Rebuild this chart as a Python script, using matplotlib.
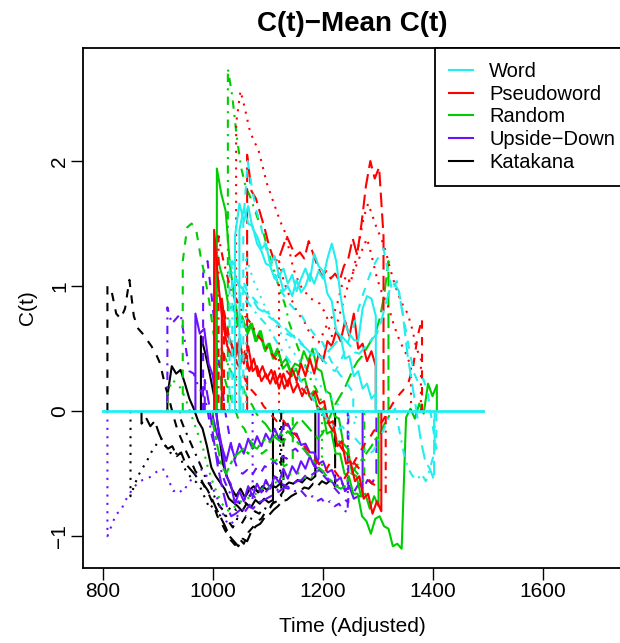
import numpy as np
import matplotlib.pyplot as plt
from matplotlib.lines import Line2D

plt.rcParams['font.family'] = ['Liberation Sans', 'DejaVu Sans']

# each trace: (start time, time step, C(t) - mean values)
# Katakana
kat_1 = (808, 8, [1.00, 0.95, 0.78, 0.74, 0.82, 1.05, 0.76, 0.66, 0.62, 0.57, 0.52, 0.46, 0.38, 0.22,
                  0.10, -0.04, -0.16, -0.24, -0.33, -0.40, -0.48, -0.52, -0.60, -0.66, -0.74, -0.84,
                  -0.90, -0.97, -1.03, -1.07, -1.02, -1.06, -0.97, -0.93, -0.88, -0.86, -0.80, -0.77,
                  -0.71, -0.69, -0.64])
kat_2 = (850, 8, [-0.68, -0.58, -0.50, -0.44, -0.38, -0.31, -0.26, -0.22, -0.28, -0.33, -0.36, -0.31,
                  -0.44, -0.50, -0.54, -0.57, -0.62, -0.70, -0.78, -0.74, -0.82, -0.86, -0.80, -0.76,
                  -0.79, -0.72, -0.74, -0.68, -0.66, -0.62, -0.64, -0.57, -0.60, -0.54, -0.50])
kat_3 = (917, 8, [0.12, 0.36, 0.30, 0.33, 0.22, 0.10, 0.02, -0.08, -0.14, -0.28, -0.45, -0.52, -0.57,
                  -0.62, -0.70, -0.73, -0.76, -0.80, -0.74, -0.77, -0.71, -0.74, -0.70, -0.73, -0.71])
kat_4 = (978, 8, [0.60, 0.46, 0.30, 0.12, -0.15, -0.42, -0.53, -0.62, -0.68, -0.62, -0.69, -0.63,
                  -0.60, -0.65, -0.60, -0.63, -0.59, -0.61, -0.58, -0.60, -0.57, -0.58, -0.55, -0.57,
                  -0.53, -0.55, -0.52])
kat_5 = (940, 8, [-0.05, -0.14, -0.22, -0.30, -0.38, -0.46, -0.55, -0.60, -0.70, -0.76, -0.80, -0.88,
                  -0.93, -0.86, -0.90, -0.84, -0.87, -0.80, -0.82, -0.77, -0.79, -0.74, -0.72, -0.68])
kat_6 = (870, 8, [-0.10, -0.05, -0.12, -0.08, -0.18, -0.26, -0.30, -0.28, -0.36, -0.33, -0.42, -0.46,
                  -0.50, -0.55, -0.58, -0.63, -0.70, -0.78, -0.85, -0.92, -1.00, -1.04, -1.08, -1.02,
                  -1.04, -0.96, -0.92, -0.90, -0.85, -0.83, -0.79, -0.76, -0.72, -0.71, -0.68, -0.66,
                  -0.64, -0.61, -0.62, -0.58, -0.60, -0.56, -0.58, -0.55, -0.60])

# Upside-Down
ud_1 = (808, 8, [-1.00, -0.91, -0.82, -0.80, -0.72, -0.66, -0.61, -0.57, -0.55, -0.54, -0.52, -0.49,
                 -0.46, -0.47, -0.56, -0.64, -0.62, -0.65, -0.60, -0.55, -0.50, -0.46, -0.48, -0.55,
                 -0.62, -0.70, -0.80, -0.88, -0.91, -0.86, -0.82, -0.78, -0.76, -0.73])
ud_2 = (917, 8, [0.83, 0.70, 0.74, 0.78, 0.55, 0.32, 0.30, 0.20, 0.14, 0.04, -0.18, -0.32, -0.45,
                 -0.56, -0.64, -0.70, -0.73, -0.69, -0.71, -0.66, -0.69, -0.64, -0.66, -0.62, -0.60,
                 -0.63, -0.58, -0.60, -0.61, -0.64, -0.62, -0.66, -0.70, -0.68, -0.72, -0.70, -0.74,
                 -0.72, -0.76, -0.74, -0.79, -0.81])
ud_3 = (982, 8, [1.10, 1.20, 0.90, 0.55, 0.28, 0.00, -0.20, -0.38, -0.48, -0.50, -0.47, -0.52, -0.46,
                 -0.50, -0.44, -0.46, -0.40, -0.43, -0.36, -0.38, -0.32, -0.30, -0.34, -0.30, -0.36,
                 -0.42, -0.46, -0.50, -0.54, -0.58, -0.62, -0.66, -0.70, -0.73])
ud_4 = (968, 8, [0.78, 0.62, 0.66, 0.38, 0.28, -0.10, -0.28, -0.52, -0.58, -0.74, -0.64, -0.72, -0.60,
                 -0.68, -0.58, -0.65, -0.55, -0.62, -0.52, -0.57, -0.46, -0.54, -0.44, -0.50, -0.40,
                 -0.46, -0.36, -0.44, -0.38])
ud_5 = (1000, 8, [-0.05, -0.20, -0.28, -0.40, -0.26, -0.38, -0.26, -0.34, -0.22, -0.30, -0.20, -0.28,
                  -0.18, -0.24, -0.14, -0.22, -0.12, -0.10, -0.18, -0.18, -0.27, -0.26, -0.33, -0.33,
                  -0.42, -0.40, -0.49, -0.47, -0.56, -0.53, -0.64, -0.60, -0.70, -0.68, -0.68])
ud_6 = (985, 8, [0.25, 0.05, -0.22, -0.45, -0.62, -0.76, -0.84, -0.82, -0.79, -0.81, -0.76, -0.78,
                 -0.73, -0.72, -0.70, -0.68, -0.66, -0.64, -0.61, -0.62, -0.58, -0.56, -0.55, -0.51,
                 -0.52, -0.49, -0.47, -0.50, -0.54, -0.57, -0.60, -0.56, -0.63, -0.60, -0.64, -0.58,
                 -0.62, -0.55, -0.58, -0.50])

# Random
rnd_1 = (945, 8, [1.20, 1.47, 1.50, 1.46, 1.25, 1.08, 0.88, 0.62, 0.46, 0.33, 0.20, 0.10, 0.00,
                  -0.10, -0.14, -0.22, -0.27, -0.30, -0.34, -0.31, -0.38, -0.40, -0.37, -0.44, -0.42,
                  -0.40])
rnd_2 = (1027, 8, [2.74, 2.52, 2.20, 1.95, 1.80, 1.72, 1.62, 1.52, 1.44, 1.30, 1.18, 1.06, 0.95, 0.85,
                   0.70, 0.60, 0.50, 0.42, 0.33, 0.24, 0.18, 0.10, 0.02, -0.08, -0.16, -0.22, -0.30,
                   -0.34, -0.42, -0.48, -0.52, -0.56])
rnd_3 = (1007, 8, [1.94, 1.74, 1.60, 1.16, 0.90, 0.70, 0.72, 0.62, 0.70, 0.56, 0.64, 0.48, 0.54, 0.42,
                   0.48, 0.34, 0.38, 0.28, 0.34, 0.24, 0.26, 0.12, 0.16, 0.00, 0.02, -0.18, -0.16,
                   -0.34, -0.34, -0.50, -0.52, -0.66, -0.66, -0.84, -0.88, -0.98, -0.86, -0.84, -0.92,
                   -0.94, -1.08, -1.06, -1.10, -0.05, 0.02, -0.06, 0.06, -0.02, 0.22, 0.12, 0.21])
rnd_4 = (1005, 8, [1.30, 1.14, 1.02, 0.82, 0.84, 0.68, 0.76, 0.64, 0.70, 0.56, 0.64, 0.50, 0.54, 0.42,
                   0.50, 0.38, 0.42, 0.32, 0.38, 0.36, 0.48, 0.40, 0.50, 0.34, 0.32, 0.16, 0.14, -0.04,
                   -0.06, -0.26, -0.30, -0.50, -0.52, -0.68, -0.66, -0.78, -0.68, -0.76])
rnd_5 = (1000, 8, [-0.10, -0.28, -0.44, -0.50, -0.42, -0.36, -0.33, -0.30, -0.34, -0.28, -0.30, -0.25,
                   -0.22, -0.25, -0.20, -0.17, -0.20, -0.16, -0.20, -0.24, -0.28, -0.32, -0.36, -0.40,
                   -0.45, -0.48, -0.53, -0.56, -0.60, -0.62, -0.60, -0.52, -0.47, -0.42, -0.38, -0.33,
                   -0.28, -0.22, -0.18, -0.10, -0.04])
rnd_6 = (918, 8, [0.15, 0.25, 0.22, 0.18, 0.10, 0.00, -0.10, -0.20, -0.30, -0.44, -0.55, -0.64, -0.72,
                  -0.78, -0.80, -0.77, -0.74, -0.71, -0.70, -0.68, -0.66, -0.63, -0.60, -0.61, -0.58,
                  -0.56, -0.54, -0.52, -0.50, -0.49, -0.50, -0.53, -0.55, -0.52, -0.48, -0.45])
rnd_7 = (1015, 8, [0.50, 0.42, 0.33, 0.27, 0.22, 0.18, 0.10, 0.05, -0.02, -0.07, -0.10, -0.15, -0.20,
                   -0.23, -0.25, -0.20, -0.15, -0.10, -0.06, -0.10, -0.14, -0.18, -0.22, -0.18, -0.10,
                   -0.02, 0.06, 0.12, 0.18, 0.26, 0.34, 0.40, 0.44, 0.50, 0.56, 0.62, 0.74, 0.92, 1.20])

# Pseudoword
psw_1 = (1042, 8, [2.30, 2.56, 2.42, 2.26, 2.16, 2.10, 1.96, 1.82, 1.72, 1.62, 1.52, 1.44, 1.30, 1.14,
                   1.05, 0.98, 0.94, 0.90, 0.88, 0.86, 0.80, 0.72, 0.76, 0.86, 1.00, 1.08, 1.02, 1.18,
                   1.36, 1.55, 1.66, 1.56, 1.46, 1.38, 1.28, 1.14, 1.02, 0.92, 0.84, 0.78, 0.66, 0.50,
                   0.42])
psw_2 = (1062, 8, [2.05, 1.76, 1.70, 1.58, 1.46, 1.32, 1.22, 1.20, 1.30, 1.40, 1.32, 1.24, 1.27, 1.22,
                   1.36, 1.26, 1.16, 1.08, 1.12, 1.06, 1.10, 1.04, 1.16, 1.22, 1.38, 1.25, 1.50, 1.80,
                   2.00, 1.86, 1.95, 1.40])
psw_3 = (1002, 8, [1.45, 1.00, 0.70, 0.52, 0.44, 0.54, 0.38, 0.48, 0.32, 0.42, 0.28, 0.36, 0.26, 0.33,
                   0.22, 0.30, 0.18, 0.26, 0.15, 0.22, 0.12, 0.20, 0.10, 0.16, 0.06, 0.08, -0.10, -0.08,
                   -0.28, -0.24, -0.42, -0.40, -0.56, -0.52, -0.70, -0.66, -0.82, -0.72, -0.80])
psw_4 = (1016, 8, [0.90, 0.62, 0.56, 0.42, 0.58, 0.38, 0.52, 0.32, 0.36, 0.24, 0.30, 0.22, 0.32, 0.18,
                   0.30, 0.20, 0.34, 0.24, 0.38, 0.28, 0.42, 0.30, 0.46, 0.40, 0.56, 0.52, 0.64, 0.56,
                   0.72, 0.60, 0.78, 0.50, 0.54, 0.40, 0.48, 0.36])
psw_5 = (1020, 8, [0.80, 0.62, 0.50, 0.38, 0.32, 0.24, 0.18, 0.14, 0.10, 0.04, 0.00, -0.04, -0.08,
                   -0.05, -0.10, -0.14, -0.18, -0.22, -0.27, -0.31, -0.36, -0.40, -0.44, -0.48, -0.42,
                   -0.47, -0.52, -0.56, -0.50, -0.44, -0.38, -0.32, -0.26, -0.22, -0.16, -0.12, -0.08,
                   -0.02, 0.04, 0.10, 0.14, 0.18, 0.24, 0.36, 0.60, 0.74])
psw_6 = (1010, 8, [1.40, 1.22, 1.08, 0.94, 0.90, 0.82, 0.76, 0.72, 0.66, 0.60, 0.56, 0.50, 0.46, 0.42,
                   0.38, 0.34, 0.30, 0.26, 0.22, 0.18, 0.14, 0.10, 0.06, 0.02, -0.04, -0.10, -0.16,
                   -0.24, -0.30, -0.34, -0.38, -0.42, -0.46, -0.50, -0.54, -0.58, -0.60, -0.64, -0.66])
psw_7 = (1120, 8, [1.20, 1.05, 0.95, 0.88, 0.80, 0.75, 0.70, 0.62, 0.58, 0.55, 0.62, 0.70, 0.60, 0.68,
                   0.80, 0.92, 1.05, 1.12, 1.20, 1.30, 1.38, 1.25, 1.10, 0.98, 0.90, 0.82, 0.70, 0.60,
                   0.52, 0.45, 0.35])

# Word
wrd_1 = (1048, 8, [1.45, 1.62, 1.50, 1.48, 1.34, 1.28, 1.18, 1.16, 1.06, 1.10, 0.96, 1.00, 0.92, 1.05,
                   0.95, 1.00, 1.10, 1.02, 1.12, 1.06, 1.22, 1.34, 1.20, 0.92, 0.70, 0.62, 0.57, 0.56,
                   0.82, 0.92, 0.90, 0.76])
wrd_2 = (1040, 8, [1.40, 1.66, 1.52, 1.64, 1.46, 1.40, 1.30, 1.34, 1.18, 1.24, 1.08, 1.14, 1.02, 1.09,
                   0.96, 1.06, 1.14, 1.04, 1.26, 1.16, 1.12, 0.94, 0.88, 0.64, 0.60, 0.42, 0.44, 0.28,
                   0.32, 0.18, 0.22, 0.10, 0.14])
wrd_3 = (1035, 8, [1.20, 1.05, 0.96, 0.90, 0.85, 0.80, 0.76, 0.72, 0.68, 0.62, 0.56, 0.50, 0.45, 0.40,
                   0.34, 0.28, 0.22, 0.16, 0.12, 0.06, 0.00, -0.04, -0.08, -0.12, -0.15, -0.12, -0.17,
                   -0.20, -0.22, -0.26, -0.30, -0.34, -0.32, -0.26, -0.18, -0.10, -0.02, 0.02, -0.16,
                   -0.34, -0.46, -0.52, -0.55, -0.50, -0.56, -0.45, -0.32])
wrd_4 = (1030, 8, [1.20, 1.10, 1.02, 1.05, 0.96, 0.92, 0.88, 0.84, 0.80, 0.78, 0.73, 0.70, 0.66, 0.62,
                   0.60, 0.62, 0.56, 0.52, 0.48, 0.45, 0.47, 0.42, 0.38, 0.34, 0.32, 0.38, 0.46, 0.56,
                   0.66, 0.78, 0.90, 1.00, 1.10, 1.18, 1.24, 1.30, 1.12, 0.96, 1.04, 0.86, 0.66, 0.46,
                   0.30, 0.22, 0.26, 0.16, -0.08, -0.30])
wrd_5 = (1060, 8, [1.25, 1.12, 1.02, 0.94, 0.86, 0.80, 0.75, 0.68, 0.62, 0.58, 0.50, 0.46, 0.41, 0.37,
                   0.33, 0.30, 0.25, 0.20, 0.16, 0.12, 0.08, 0.05, 0.00, -0.04, -0.08, -0.10])
wrd_6 = (1050, 8, [1.00, 0.95, 0.90, 0.88, 0.82, 0.80, 0.77, 0.74, 0.72, 0.69, 0.67, 0.63, 0.60, 0.56,
                   0.53, 0.50, 0.46, 0.50, 0.43, 0.45, 0.48, 0.52, 0.56, 0.60, 0.56, 0.52, 0.47, 0.46,
                   0.50, 0.54, 0.58, 0.62, 0.72, 0.86, 0.98, 1.02, 0.96, 0.74, 0.44, 0.22, 0.00, -0.24,
                   -0.40, -0.46, -0.55])
wrd_7 = (1055, 8, [1.50, 2.00, 1.78, 1.60, 1.48, 1.32, 1.20, 1.12, 1.00, 0.94, 0.88, 0.84, 0.80, 0.78,
                   0.72, 0.67, 0.62, 0.58, 0.55, 0.47, 0.40, 0.34, 0.29, 0.25, 0.20, 0.15])
zero_times = [800, 1490]
zero_vals = [0.0, 0.0]

cond_labels = ['Word', 'Pseudoword', 'Random', 'Upside\u2212Down', 'Katakana']
cond_colors = ['#22EEEE', '#FF0000', '#00CD00', '#6A12FF', '#000000']

LTY = {1: '-', 2: (0, (4, 4)), 3: (0, (1, 3)), 4: (0, (1, 3, 4, 3)),
       5: (0, (7, 3)), 6: (0, (2, 2, 6, 2))}

cyan, red, green, purple, black = cond_colors
traces = [
    (kat_1, black, 2), (kat_2, black, 3), (kat_3, black, 1), (kat_4, black, 1),
    (kat_5, black, 4), (kat_6, black, 5),
    (ud_1, purple, 3), (ud_2, purple, 4), (ud_3, purple, 2), (ud_4, purple, 1),
    (ud_5, purple, 1), (ud_6, purple, 5),
    (rnd_1, green, 2), (rnd_2, green, 4), (rnd_3, green, 1), (rnd_4, green, 1),
    (rnd_5, green, 6), (rnd_6, green, 3), (rnd_7, green, 5),
    (psw_1, red, 3), (psw_2, red, 5), (psw_3, red, 1), (psw_4, red, 1),
    (psw_5, red, 2), (psw_6, red, 4), (psw_7, red, 3),
    (wrd_3, cyan, 4), (wrd_4, cyan, 2), (wrd_5, cyan, 3), (wrd_6, cyan, 5),
    (wrd_7, cyan, 2), (wrd_2, cyan, 1), (wrd_1, cyan, 1),
]

fig = plt.figure(figsize=(6.2, 6.43), dpi=100)
ax = fig.add_axes([83 / 620, 75 / 643, 538 / 620, 520 / 643])

for (t0, dt, vals), col, lty in traces:
    t = t0 + dt * np.arange(len(vals))
    x = np.r_[t[0], t, t[-1]]
    y = np.r_[0.0, vals, 0.0]
    ax.plot(x, y, color=col, lw=1.5, linestyle=LTY[lty])
ax.plot(zero_times, zero_vals, color=cyan, lw=2.0)

ax.set_xlim(763.6, 1741.8)
ax.set_ylim(-1.254, 2.904)
ax.set_xticks([800, 1000, 1200, 1400, 1600])
ax.set_yticks([-1, 0, 1, 2])
ax.set_yticklabels(['\u22121', '0', '1', '2'], rotation=90, va='center')
ax.tick_params(length=8.5, width=1.0, labelsize=15, pad=1.5)
for sp in ax.spines.values():
    sp.set_linewidth(1.3)

fig.text(352 / 620, 1 - 24 / 643, 'C(t)\u2212Mean C(t)', ha='center', va='center',
         fontsize=20, fontweight='bold')
fig.text(352 / 620, 1 - 627 / 643, 'Time (Adjusted)', ha='center', va='center', fontsize=15)
fig.text(28 / 620, 1 - 308 / 643, 'C(t)', ha='center', va='center', fontsize=15, rotation=90)

handles = [Line2D([], [], color=c, lw=1.5) for c in cond_colors]
leg = ax.legend(handles, cond_labels, loc='upper left', bbox_to_anchor=(0.654, 0.0, 0.36, 1.0),
                mode='expand', borderaxespad=0, fontsize=14.5, handlelength=1.2,
                handletextpad=0.8, labelspacing=0.18, borderpad=0.7, fancybox=False,
                framealpha=1, edgecolor='black')
leg.get_frame().set_linewidth(1.3)

fig.savefig('out.png', dpi=100)
